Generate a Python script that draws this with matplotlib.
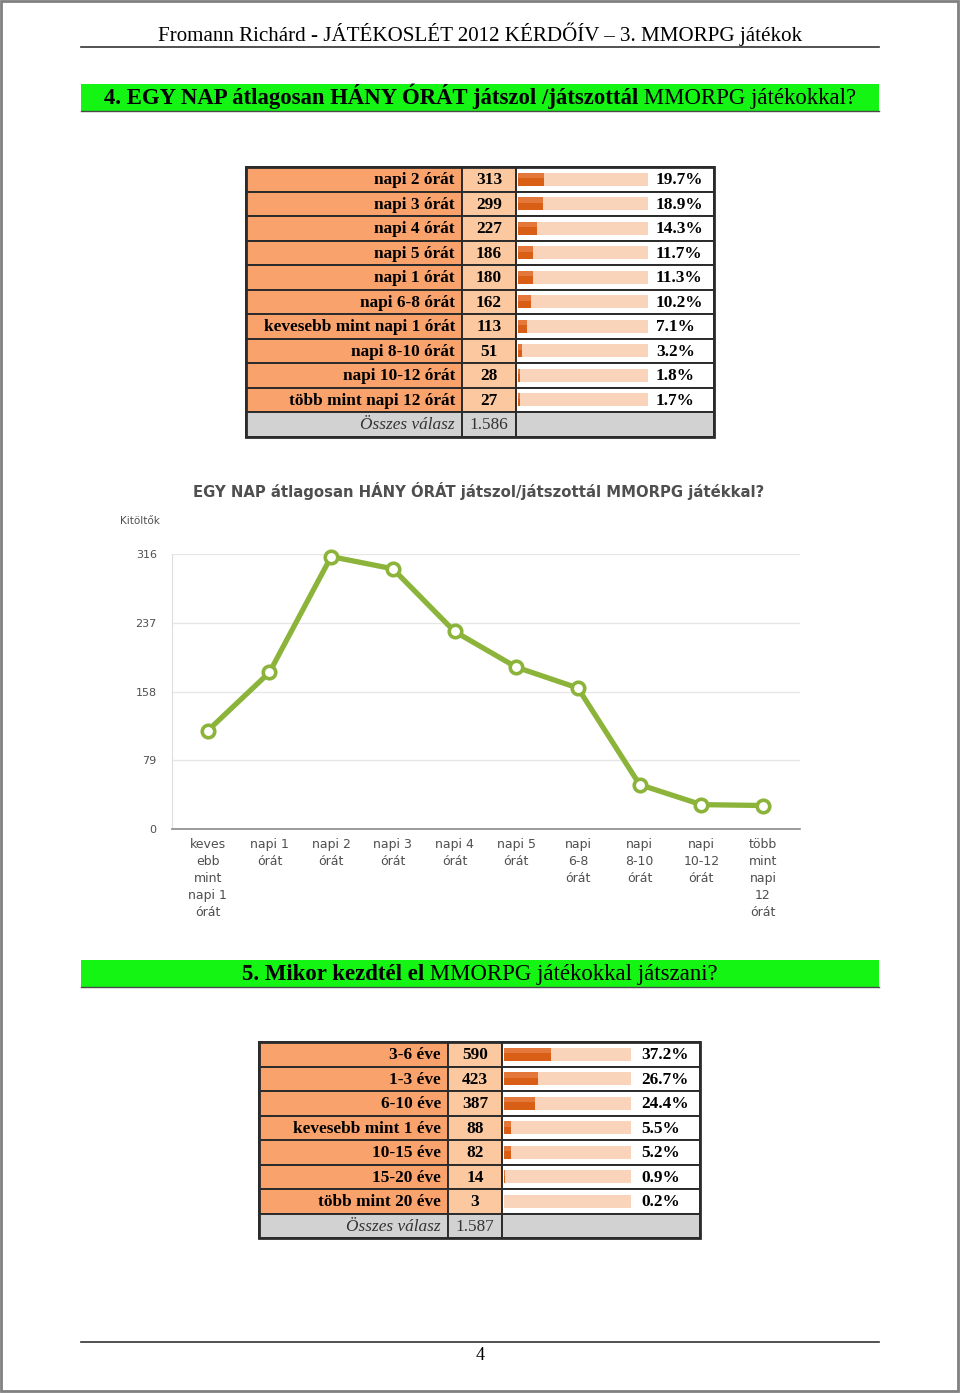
import matplotlib
matplotlib.use("Agg")
import matplotlib.pyplot as plt
from matplotlib.patches import Rectangle

W, H = 960, 1393
DPI = 100

SERIF = ["Liberation Serif", "DejaVu Serif"]
SANS = ["DejaVu Sans"]

LABEL_BG = "#f9a26c"
COUNT_BG = "#fcc89f"
TOTAL_BG = "#d2d2d2"
EDGE = "#2b2b2b"
BAR_BG = "#f9d3ba"
BAR_DARK = "#d95f17"
BAR_MID = "#e4783a"
GREEN_BANNER = "#14f514"
LINE_GREEN = "#8cb43a"
GREY_TXT = "#4f4f4f"

# 4. kérdés - táblázat
q4_labels = ["napi 2 órát", "napi 3 órát", "napi 4 órát", "napi 5 órát",
             "napi 1 órát", "napi 6-8 órát", "kevesebb mint napi 1 órát",
             "napi 8-10 órát", "napi 10-12 órát", "több mint napi 12 órát"]
q4_counts = [313, 299, 227, 186, 180, 162, 113, 51, 28, 27]
q4_pct = [19.7, 18.9, 14.3, 11.7, 11.3, 10.2, 7.1, 3.2, 1.8, 1.7]

# 4. kérdés - vonaldiagram
chart_labels = ["keves\nebb\nmint\nnapi 1\nórát", "napi 1\nórát", "napi 2\nórát",
                "napi 3\nórát", "napi 4\nórát", "napi 5\nórát", "napi\n6-8\nórát",
                "napi\n8-10\nórát", "napi\n10-12\nórát", "több\nmint\nnapi\n12\nórát"]
chart_values = [113, 180, 313, 299, 227, 186, 162, 51, 28, 27]
chart_ticks = [0, 79, 158, 237, 316]

# 5. kérdés - táblázat
q5_labels = ["3-6 éve", "1-3 éve", "6-10 éve", "kevesebb mint 1 éve",
             "10-15 éve", "15-20 éve", "több mint 20 éve"]
q5_counts = [590, 423, 387, 88, 82, 14, 3]
q5_pct = [37.2, 26.7, 24.4, 5.5, 5.2, 0.9, 0.2]


def fig_rect(x0, y0, x1, y1):
    return [x0 / W, 1 - y1 / H, (x1 - x0) / W, (y1 - y0) / H]


def mixed_line(page, renderer, cx, y, parts, fontsize):
    texts = []
    for s, weight in parts:
        texts.append(page.text(0, y, s, fontsize=fontsize, fontweight=weight,
                               family=SERIF, ha="left", va="baseline"))
    widths = [t.get_window_extent(renderer).width for t in texts]
    x = cx - sum(widths) / 2
    for t, w in zip(texts, widths):
        t.set_x(x)
        x += w


def banner(page, renderer, y0, y1, parts):
    page.add_patch(Rectangle((81, y0), 798, y1 - y0, facecolor=GREEN_BANNER,
                             edgecolor="none"))
    page.plot([81, 879], [y1, y1], color="#4a4a4a", lw=1.0)
    mixed_line(page, renderer, 480, y1 - 7, parts, 16.4)


def draw_table(fig, page, top, xs, labels, counts, pct, pct_x, bar_len,
               row_h=24.5, fs=12.4):
    x_lab, x_cnt, x_bar, x_end = xs
    n = len(labels)
    for i, (lab, c, p) in enumerate(zip(labels, counts, pct)):
        y = top + i * row_h
        cy = y + row_h / 2 + 1
        page.add_patch(Rectangle((x_lab, y), x_cnt - x_lab, row_h,
                                 facecolor=LABEL_BG, edgecolor=EDGE, lw=1.4))
        page.add_patch(Rectangle((x_cnt, y), x_bar - x_cnt, row_h,
                                 facecolor=COUNT_BG, edgecolor=EDGE, lw=1.4))
        page.add_patch(Rectangle((x_bar, y), x_end - x_bar, row_h,
                                 facecolor="white", edgecolor=EDGE, lw=1.4))
        page.text(x_cnt - 7, cy, lab, ha="right", va="center", fontsize=fs,
                  fontweight="bold", family=SERIF)
        page.text((x_cnt + x_bar) / 2, cy, str(c), ha="center", va="center",
                  fontsize=fs, fontweight="bold", family=SERIF)
        page.text(pct_x, cy, f"{p:.1f}%", ha="left", va="center", fontsize=fs,
                  fontweight="bold", family=SERIF)

    # összesen sor
    y = top + n * row_h
    cy = y + row_h / 2 + 1
    for a, b in [(x_lab, x_cnt), (x_cnt, x_bar), (x_bar, x_end)]:
        page.add_patch(Rectangle((a, y), b - a, row_h, facecolor=TOTAL_BG,
                                 edgecolor=EDGE, lw=1.4))
    total = f"{sum(counts):,}".replace(",", ".")
    page.text(x_cnt - 7, cy, "Összes válasz", ha="right", va="center",
              fontsize=fs, fontstyle="italic", family=SERIF, color="#333333")
    page.text((x_cnt + x_bar) / 2, cy, total, ha="center", va="center",
              fontsize=fs, family=SERIF, color="#333333")
    page.add_patch(Rectangle((x_lab, top), x_end - x_lab, (n + 1) * row_h,
                             fill=False, edgecolor=EDGE, lw=2.0))

    # sávok
    bx = fig.add_axes(fig_rect(x_bar + 2, top, x_bar + 2 + bar_len, top + n * row_h))
    pos = list(range(n))
    bx.barh(pos, [100] * n, height=0.54, color=BAR_BG)
    bx.barh(pos, pct, height=0.54, color=BAR_DARK)
    bx.barh([q - 0.16 for q in pos], pct, height=0.22, color=BAR_MID)
    bx.set_xlim(0, 100)
    bx.set_ylim(n - 0.5, -0.5)
    bx.axis("off")


fig = plt.figure(figsize=(W / DPI, H / DPI), dpi=DPI)
fig.patch.set_facecolor("white")
renderer = fig.canvas.get_renderer()

page = fig.add_axes([0, 0, 1, 1])
page.set_xlim(0, W)
page.set_ylim(H, 0)
page.axis("off")

# keret, fejléc, lábléc
page.add_patch(Rectangle((1, 1), W - 3, H - 3, fill=False, edgecolor="#808080", lw=2))
page.text(480, 34, "Fromann Richárd - JÁTÉKOSLÉT 2012 KÉRDŐÍV – 3. MMORPG játékok",
          ha="center", va="center", fontsize=15.1, family=SERIF)
page.plot([81, 879], [47, 47], color="#333333", lw=1.2)
page.plot([81, 879], [1342, 1342], color="#333333", lw=1.2)
page.text(480, 1356, "4", ha="center", va="center", fontsize=13, family=SERIF)

banner(page, renderer, 84, 111,
       [("4. EGY NAP átlagosan HÁNY ÓRÁT játszol /játszottál", "bold"),
        (" MMORPG játékokkal?", "normal")])
banner(page, renderer, 960, 987,
       [("5. Mikor kezdtél el", "bold"),
        (" MMORPG játékokkal játszani?", "normal")])

draw_table(fig, page, 167, (246, 462, 516, 714), q4_labels, q4_counts, q4_pct,
           pct_x=656, bar_len=130)
draw_table(fig, page, 1042, (259, 448, 502, 700), q5_labels, q5_counts, q5_pct,
           pct_x=641, bar_len=127)

# vonaldiagram
page.text(479, 491, "EGY NAP átlagosan HÁNY ÓRÁT játszol/játszottál MMORPG játékkal?",
          ha="center", va="center", fontsize=10.75, fontweight="bold",
          family=SANS, color=GREY_TXT)
page.text(140, 521, "Kitöltők", ha="center", va="center", fontsize=7.5,
          family=SANS, color=GREY_TXT)

ax = fig.add_axes(fig_rect(172, 554, 800, 829))
ax.plot(range(len(chart_values)), chart_values, color=LINE_GREEN, lw=3.8,
        marker="o", ms=9, mfc="white", mec=LINE_GREEN, mew=2.6, clip_on=False,
        zorder=3)
ax.set_xlim(-0.58, 9.6)
ax.set_ylim(0, 316)
ax.set_yticks(chart_ticks)
ax.set_yticklabels([str(t) for t in chart_ticks], fontsize=8, color=GREY_TXT,
                   family=SANS)
ax.set_xticks(range(len(chart_labels)))
ax.set_xticklabels(chart_labels, fontsize=9, color=GREY_TXT, family=SANS,
                   linespacing=1.4, va="top")
ax.tick_params(axis="both", length=0)
ax.tick_params(axis="x", pad=6.5)
ax.tick_params(axis="y", pad=11)
ax.yaxis.grid(True, color="#e6e6e6", lw=1)
ax.set_axisbelow(True)
for side in ("top", "right"):
    ax.spines[side].set_visible(False)
ax.spines["left"].set_color("#dddddd")
ax.spines["bottom"].set_color("#8a8a8a")
ax.spines["bottom"].set_linewidth(1.2)

fig.savefig("out.png", dpi=DPI, facecolor="white")
